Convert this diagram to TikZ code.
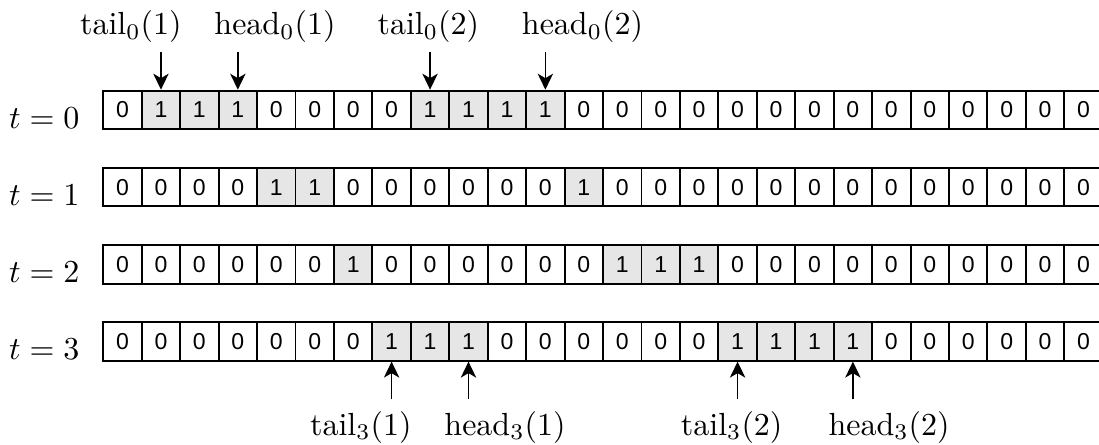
\documentclass[tikz,border=0pt]{standalone}
\usepackage{fontspec}
\newfontfamily\cellfont{Liberation Sans}
\usetikzlibrary{arrows.meta}
\definecolor{cellgray}{HTML}{E6E6E6}
\tikzset{
  cell/.style={draw=black, line width=0.6pt, minimum width=12.01pt, minimum height=12.09pt,
    inner sep=0pt, font=\cellfont\fontsize{7.2}{8}\selectfont},
  val0/.style={fill=white},
  val1/.style={fill=cellgray},
  arr/.style={line width=0.5pt, -{Stealth[length=5pt,width=4.8pt,inset=1.4pt]}},
  lbl/.style={inner sep=0pt, anchor=base},
  tlbl/.style={inner sep=0pt, anchor=base east}
}
\begin{document}
\begin{tikzpicture}[x=0.3125pt,y=-0.3125pt]
\useasboundingbox (0,0) rectangle (1099,444);
% rows
\foreach \v [count=\i from 0] in {0,1,1,1,0,0,0,0,1,1,1,1,0,0,0,0,0,0,0,0,0,0,0,0,0,0}
  \node[cell,val\v] (c0-\i) at ({103.3+38.44*(\i+0.5)},110) {\v};
\foreach \v [count=\i from 0] in {0,0,0,0,1,1,0,0,0,0,0,0,1,0,0,0,0,0,0,0,0,0,0,0,0,0}
  \node[cell,val\v] (c1-\i) at ({103.3+38.44*(\i+0.5)},187.1) {\v};
\foreach \v [count=\i from 0] in {0,0,0,0,0,0,1,0,0,0,0,0,0,1,1,1,0,0,0,0,0,0,0,0,0,0}
  \node[cell,val\v] (c2-\i) at ({103.3+38.44*(\i+0.5)},264.2) {\v};
\foreach \v [count=\i from 0] in {0,0,0,0,0,0,0,1,1,1,0,0,0,0,0,0,1,1,1,1,0,0,0,0,0,0}
  \node[cell,val\v] (c3-\i) at ({103.3+38.44*(\i+0.5)},341.3) {\v};
% row labels
\node[tlbl] (t0) at (80,128.5) {$t=0$};
\node[tlbl] (t1) at (80,205.6) {$t=1$};
\node[tlbl] (t2) at (80,282.7) {$t=2$};
\node[tlbl] (t3) at (80,359.8) {$t=3$};
% top pointers
\coordinate (s01) at ([yshift=11.8pt]c0-1.north);
\coordinate (s03) at ([yshift=11.8pt]c0-3.north);
\coordinate (s08) at ([yshift=11.8pt]c0-8.north);
\coordinate (s011) at ([yshift=11.8pt]c0-11.north);
\draw[arr] (s01) -- (c0-1.north);
\draw[arr] (s03) -- (c0-3.north);
\draw[arr] (s08) -- (c0-8.north);
\draw[arr] (s011) -- (c0-11.north);
\node[lbl] (lt01) at (130.8,35) {$\mathrm{tail}_0(1)$};
\node[lbl] (lh01) at (275,35) {$\mathrm{head}_0(1)$};
\node[lbl] (lt02) at (428.3,35) {$\mathrm{tail}_0(2)$};
\node[lbl] (lh02) at (582.5,35) {$\mathrm{head}_0(2)$};
% bottom pointers
\coordinate (s37) at ([yshift=-11.7pt]c3-7.south);
\coordinate (s39) at ([yshift=-11.7pt]c3-9.south);
\coordinate (s316) at ([yshift=-11.7pt]c3-16.south);
\coordinate (s319) at ([yshift=-11.7pt]c3-19.south);
\draw[arr] (s37) -- (c3-7.south);
\draw[arr] (s39) -- (c3-9.south);
\draw[arr] (s316) -- (c3-16.south);
\draw[arr] (s319) -- (c3-19.south);
\node[lbl] (lt31) at (360.8,435) {$\mathrm{tail}_3(1)$};
\node[lbl] (lh31) at (505,435) {$\mathrm{head}_3(1)$};
\node[lbl] (lt32) at (731.7,435) {$\mathrm{tail}_3(2)$};
\node[lbl] (lh32) at (889,435) {$\mathrm{head}_3(2)$};
\end{tikzpicture}
\end{document}
